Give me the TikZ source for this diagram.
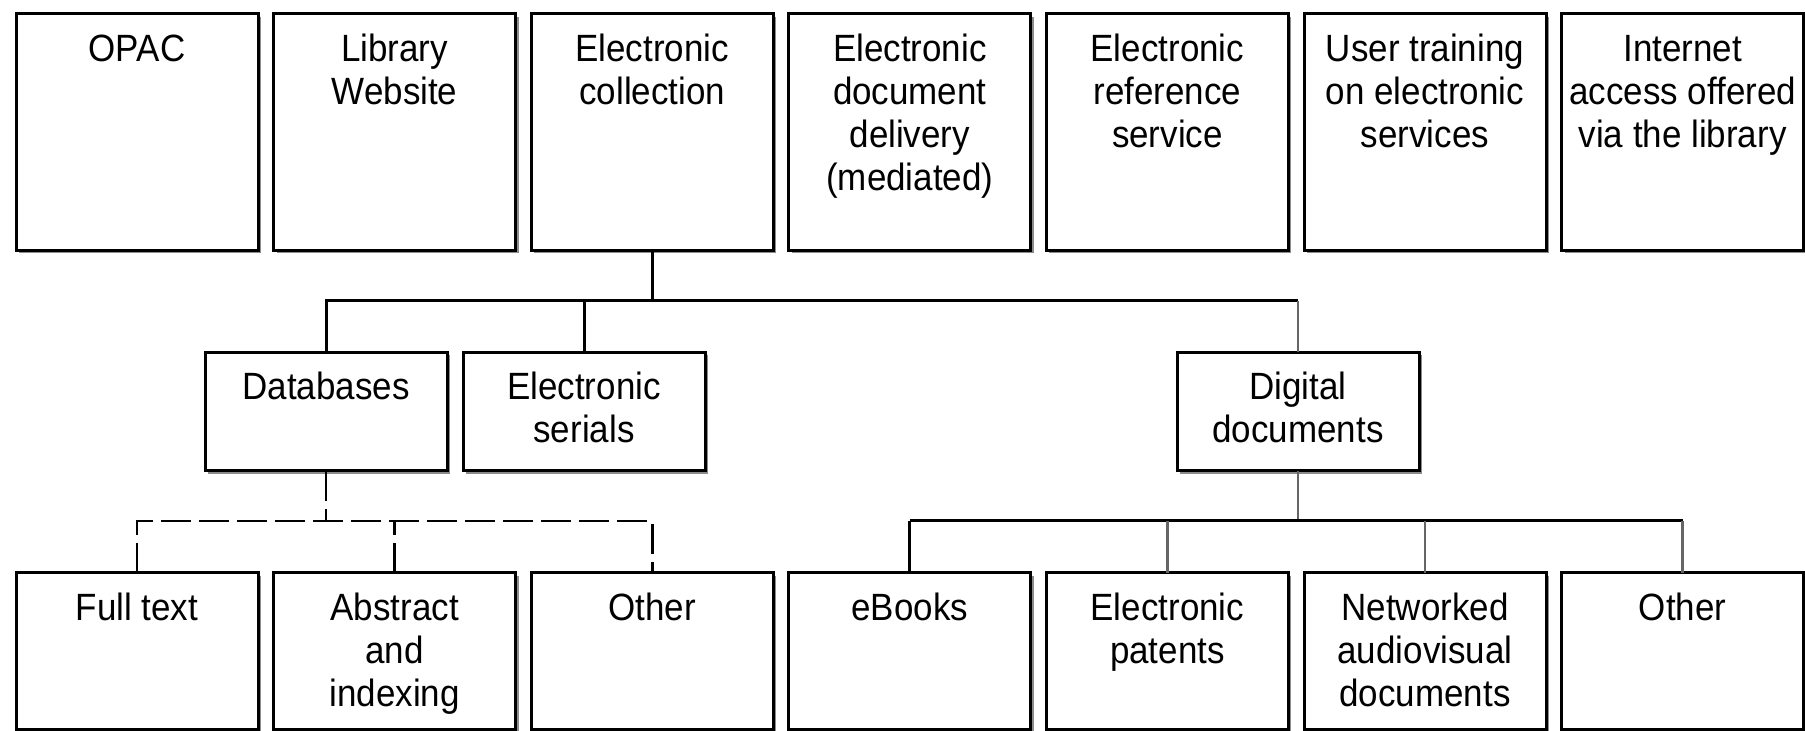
\documentclass[tikz,border=0pt]{standalone}
\usepackage{fontspec}
\setmainfont{Liberation Sans}[FakeStretch=0.92]
\usetikzlibrary{shadows}

\begin{document}
\begin{tikzpicture}[
  x=0.5pt, y=-0.5pt,
  box/.style={rectangle, draw=black, line width=1.5pt, fill=white,
    inner sep=0pt, outer sep=0pt, minimum width=121pt, anchor=north west,
    drop shadow={shadow xshift=1.5pt, shadow yshift=-1.5pt, fill=black!45, opacity=1}},
  toprow/.style={box, minimum height=118.25pt},
  midrow/.style={box, minimum height=59.25pt},
  botrow/.style={box, minimum height=78.25pt},
  lbl/.style={anchor=north, inner sep=0pt, align=center,
    font=\fontsize{19pt}{21.5pt}\selectfont},
  conn/.style={draw=black, line width=1.5pt},
  thinconn/.style={draw=black!60, line width=1.2pt},
  dconn/.style={draw=black, line width=1.4pt, dash pattern=on 15pt off 4pt},
]
\useasboundingbox (0,0) rectangle (1805,731);
\fill[white] (0,0) rectangle (1805,731);

% bus levels
\coordinate (bus1) at (0,301);
\coordinate (bus2) at (0,521);

% services row
\node[toprow] (opac) at (16,14)     {};
\node[toprow] (web)  at (273.6,14)  {};
\node[toprow] (ec)   at (531.2,14)  {};
\node[toprow] (edd)  at (788.8,14)  {};
\node[toprow] (ers)  at (1046.4,14) {};
\node[toprow] (ut)   at (1304,14)   {};
\node[toprow] (ia)   at (1561.6,14) {};

% electronic collection row
\node[midrow] (db) at (205,352.5)  {};
\node[midrow] (es) at (463,352.5)  {};
\node[midrow] (dd) at (1177,352.5) {};

% resource types row
\node[botrow] (ft)  at (16,573)     {};
\node[botrow] (ab)  at (273.6,573)  {};
\node[botrow] (ot1) at (531.2,573)  {};
\node[botrow] (eb)  at (788.8,573)  {};
\node[botrow] (ep)  at (1046.4,573) {};
\node[botrow] (nav) at (1304,573)   {};
\node[botrow] (ot2) at (1561.6,573) {};

% labels
\node[lbl] (opac-l) at ([yshift=-8.5pt]opac.north) {\strut OPAC};
\node[lbl] (web-l)  at ([yshift=-8.5pt]web.north)  {\strut Library\\Website};
\node[lbl] (ec-l)   at ([yshift=-8.5pt]ec.north)   {\strut Electronic\\collection};
\node[lbl] (edd-l)  at ([yshift=-8.5pt]edd.north)  {\strut Electronic\\document\\delivery\\(mediated)};
\node[lbl] (ers-l)  at ([yshift=-8.5pt]ers.north)  {\strut Electronic\\reference\\service};
\node[lbl] (ut-l)   at ([yshift=-8.5pt]ut.north)   {\strut User training\\on electronic\\services};
\node[lbl] (ia-l)   at ([yshift=-8.5pt]ia.north)   {\strut Internet\\access offered\\via the library};

\node[lbl] (db-l) at ([yshift=-8.5pt]db.north) {\strut Databases};
\node[lbl] (es-l) at ([yshift=-8.5pt]es.north) {\strut Electronic\\serials};
\node[lbl] (dd-l) at ([yshift=-8.5pt]dd.north) {\strut Digital\\documents};

\node[lbl] (ft-l)  at ([yshift=-8.5pt]ft.north)  {\strut Full text};
\node[lbl] (ab-l)  at ([yshift=-8.5pt]ab.north)  {\strut Abstract\\and\\indexing};
\node[lbl] (ot1-l) at ([yshift=-8.5pt]ot1.north) {\strut Other};
\node[lbl] (eb-l)  at ([yshift=-8.5pt]eb.north)  {\strut eBooks};
\node[lbl] (ep-l)  at ([yshift=-8.5pt]ep.north)  {\strut Electronic\\patents};
\node[lbl] (nav-l) at ([yshift=-8.5pt]nav.north) {\strut Networked\\audiovisual\\documents};
\node[lbl] (ot2-l) at ([yshift=-8.5pt]ot2.north) {\strut Other};

% electronic collection branches
\draw[conn] (ec.south) -- (ec.south |- bus1);
\draw[conn] (db.north) |- (bus1 -| dd.north);
\draw[conn] (es.north) -- (es.north |- bus1);
\draw[thinconn] (dd.north) -- (dd.north |- bus1);

% databases branches (dashed)
\draw[dconn] (db.south) -- (db.south |- bus2);
\draw[dconn] (ft.north) |- (bus2 -| ot1.north) -- (ot1.north);
\draw[dconn] (ab.north) -- (ab.north |- bus2);

% digital documents branches
\draw[thinconn] (dd.south) -- (dd.south |- bus2);
\draw[conn] (bus2 -| eb.north) -- (bus2 -| ot2.north);
\draw[conn] (eb.north) -- (eb.north |- bus2);
\draw[thinconn] (ep.north) -- (ep.north |- bus2);
\draw[thinconn] (nav.north) -- (nav.north |- bus2);
\draw[thinconn] (ot2.north) -- (ot2.north |- bus2);
\end{tikzpicture}
\end{document}
